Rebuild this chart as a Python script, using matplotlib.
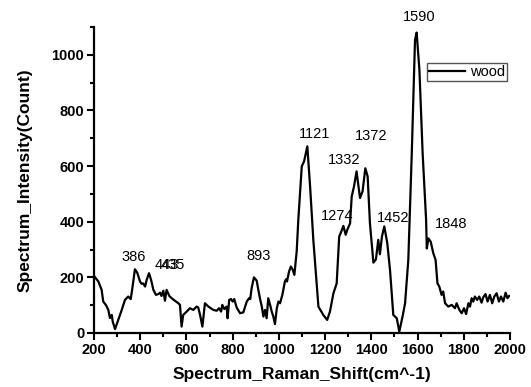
import matplotlib
matplotlib.use("Agg")
import matplotlib.pyplot as plt
from matplotlib.ticker import MultipleLocator

# Raman spectrum of wood
shift = [
    200, 219, 233, 240, 252, 262, 269, 277, 281, 291, 305, 320, 334, 348, 359,
    367, 377, 387, 399, 406, 413, 421, 428, 438, 447, 457, 468, 478, 486, 492,
    500, 507, 514, 526, 536, 550, 565, 572, 579, 586, 601, 615, 630, 644, 651,
    659, 669, 680, 695, 716, 731, 741, 750, 755, 764, 774, 778, 785, 793, 800,
    807, 817, 832, 846, 861, 871, 876, 882, 892, 904, 911, 918, 926, 933, 940,
    947, 954, 962, 969, 976, 983, 991, 998, 1005, 1015, 1026, 1031, 1035, 1044,
    1052, 1059, 1067, 1077, 1084, 1099, 1109, 1123, 1135, 1149, 1171, 1192,
    1209, 1221, 1236, 1250, 1261, 1270, 1279, 1289, 1296, 1308, 1315, 1325,
    1336, 1351, 1362, 1374, 1384, 1394, 1409, 1420, 1430, 1437, 1446, 1456,
    1469, 1481, 1495, 1510, 1521, 1535, 1546, 1560, 1575, 1589, 1596, 1608,
    1622, 1637, 1640, 1647, 1657, 1668, 1678, 1686, 1694, 1704, 1711, 1719,
    1733, 1748, 1762, 1769, 1781, 1791, 1801, 1810, 1820, 1827, 1834, 1841,
    1848, 1858, 1867, 1877, 1884, 1894, 1903, 1913, 1923, 1932, 1942, 1952,
    1961, 1971, 1981, 1989, 1996,
]
intensity = [
    205, 185, 155, 113, 100, 83, 54, 65, 41, 14, 47, 83, 119, 131, 122,
    167, 229, 217, 185, 177, 178, 167, 191, 215, 191, 155, 137, 140, 145, 133,
    152, 116, 155, 133, 125, 116, 107, 101, 23, 65, 77, 89, 83, 95, 92,
    65, 23, 107, 95, 83, 80, 89, 77, 101, 86, 95, 53, 119, 122, 113,
    122, 92, 71, 74, 113, 125, 122, 161, 200, 188, 155, 125, 95, 59, 83,
    53, 125, 101, 77, 59, 32, 89, 113, 107, 137, 185, 193, 185, 221,
    239, 229, 209, 293, 406, 599, 617, 671, 527, 335, 95, 65,
    47, 77, 143, 178, 347, 365, 385, 353, 371, 394, 490, 527,
    581, 485, 509, 592, 563, 394, 253, 265, 335, 283, 347, 383,
    323, 225, 65, 53, 5, 59, 107, 263, 646, 1054, 1080, 946,
    646, 406, 304, 340, 328, 287, 263, 179, 167, 137, 149, 107,
    95, 101, 89, 107, 83, 71, 89, 68, 107, 95, 125, 113,
    131, 119, 131, 109, 128, 140, 113, 137, 107, 131, 143, 113,
    131, 113, 145, 125, 133,
]

# peak annotations (the 443 and 435 labels overlap in the original too)
peak_labels = ["386", "443", "435", "893", "1121", "1274", "1332", "1372",
               "1452", "1590", "1848"]
label_x = [373, 513, 539, 910, 1153, 1250, 1284, 1399, 1495, 1606, 1745]
label_y = [273, 245, 245, 277, 716, 421, 622, 707, 415, 1135, 392]

plt.rcParams["font.family"] = ["Liberation Sans", "DejaVu Sans"]

fig = plt.figure(figsize=(5.31, 3.87), dpi=100)
ax = fig.add_axes([94 / 531, 54 / 387, 416 / 531, 306 / 387])

ax.plot(shift, intensity, color="black", linewidth=1.6, label="wood")

for txt, lx, ly in zip(peak_labels, label_x, label_y):
    ax.text(lx, ly, txt, ha="center", va="center", fontsize=10.5,
            clip_on=False)

ax.set_xlim(200, 2000)
ax.set_ylim(0, 1100)
ax.xaxis.set_major_locator(MultipleLocator(200))
ax.xaxis.set_minor_locator(MultipleLocator(100))
ax.yaxis.set_major_locator(MultipleLocator(200))
ax.yaxis.set_minor_locator(MultipleLocator(100))

for side in ["top", "right"]:
    ax.spines[side].set_visible(False)
for side in ["left", "bottom"]:
    ax.spines[side].set_linewidth(1.6)

ax.tick_params(which="major", direction="out", length=5, width=1.5,
               labelsize=10.5, pad=2)
ax.tick_params(which="minor", direction="out", length=3, width=1.5)
for lbl in ax.get_xticklabels() + ax.get_yticklabels():
    lbl.set_fontweight("bold")

ax.set_xlabel("Spectrum_Raman_Shift(cm^-1)", fontsize=12.5, fontweight="bold")
ax.set_ylabel("Spectrum_Intensity(Count)", fontsize=12.5, fontweight="bold")
ax.xaxis.set_label_coords(0.5, -0.112)
ax.yaxis.set_label_coords(-0.147, 0.5)

leg = ax.legend(loc="upper right", bbox_to_anchor=(0.993, 0.882),
                fontsize=10.5, frameon=True, fancybox=False, framealpha=1,
                edgecolor="#555555", borderaxespad=0, borderpad=0.15,
                handlelength=2.5, handletextpad=0.3)
leg.get_frame().set_linewidth(1.0)

fig.savefig("out.png", dpi=100)
